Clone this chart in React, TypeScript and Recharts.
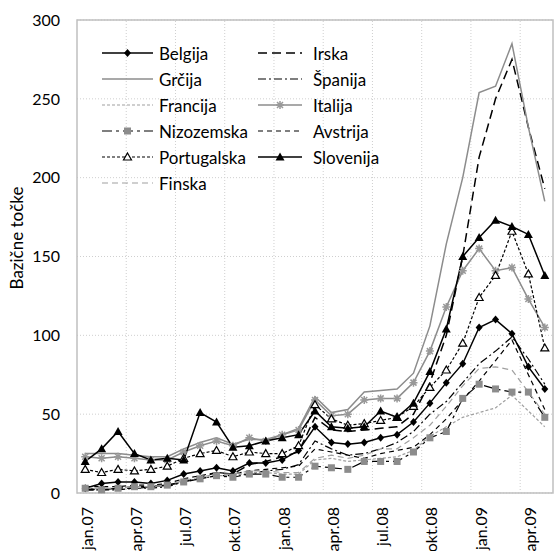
import React from 'react';
import { LineChart, Line, XAxis, YAxis, CartesianGrid, ReferenceLine, ReferenceArea, Legend } from 'recharts';

// mesečni podatki, jan.07 - maj.09
const months = [
  'jan.07', 'feb.07', 'mar.07', 'apr.07', 'maj.07', 'jun.07', 'jul.07', 'avg.07', 'sep.07', 'okt.07', 'nov.07', 'dec.07',
  'jan.08', 'feb.08', 'mar.08', 'apr.08', 'maj.08', 'jun.08', 'jul.08', 'avg.08', 'sep.08', 'okt.08', 'nov.08', 'dec.08',
  'jan.09', 'feb.09', 'mar.09', 'apr.09', 'maj.09',
];
const tickIdx = [0, 3, 6, 9, 12, 15, 18, 21, 24, 27];
const gridIdx = [2.5, 5.5, 8.5, 11.5, 14.5, 17.5, 20.5, 23.5, 26.5];
const yTicks = [0, 50, 100, 150, 200, 250, 300];

const belgija = [3, 6, 7, 7, 6, 8, 12, 14, 16, 14, 19, 19, 21, 27, 42, 32, 31, 32, 35, 37, 45, 57, 70, 82, 105, 110, 101, 80, 66];
const irska = [2, 2, 3, 3, 4, 5, 7, 10, 13, 12, 18, 20, 23, 26, 48, 40, 39, 40, 41, 42, 50, 70, 100, 150, 213, 250, 275, 232, 193];
const grcija = [25, 25, 25, 24, 23, 23, 28, 32, 35, 31, 34, 34, 37, 41, 61, 51, 53, 64, 65, 66, 76, 106, 158, 200, 254, 258, 285, 232, 185];
const spanija = [2, 2, 2, 3, 3, 4, 7, 9, 11, 11, 12, 14, 15, 18, 33, 28, 24, 25, 28, 32, 39, 50, 58, 70, 82, 90, 99, 85, 69];
const francija = [3, 3, 3, 4, 4, 5, 7, 9, 11, 11, 13, 13, 12, 12, 21, 22, 20, 21, 22, 23, 27, 36, 42, 48, 51, 54, 62, 52, 42];
const italija = [23, 22, 23, 22, 21, 21, 26, 30, 33, 30, 35, 33, 37, 40, 59, 49, 50, 59, 60, 60, 70, 90, 118, 141, 155, 141, 143, 123, 105];
const nizozemska = [3, 2, 3, 4, 4, 5, 7, 9, 11, 10, 12, 12, 10, 10, 17, 16, 15, 20, 20, 20, 26, 35, 39, 60, 69, 66, 64, 64, 48];
const avstrija = [4, 4, 4, 5, 5, 6, 9, 11, 13, 12, 14, 15, 16, 17, 28, 26, 24, 22, 25, 27, 29, 37, 47, 59, 71, 84, 97, 75, 53];
const portugalska = [15, 13, 15, 14, 15, 17, 22, 25, 27, 23, 26, 25, 25, 30, 56, 47, 43, 44, 46, 48, 55, 67, 78, 95, 124, 138, 166, 139, 92];
const slovenija = [20, 28, 39, 25, 21, 22, 21, 51, 45, 29, 30, 33, 35, 37, 52, 42, 41, 42, 52, 48, 57, 77, 104, 150, 162, 173, 169, 164, 138];
const finska = [3, 3, 3, 4, 4, 5, 8, 10, 12, 12, 14, 14, 13, 13, 22, 24, 22, 24, 28, 28, 35, 43, 55, 68, 79, 80, 78, 64, 50];

const data = months.map((m, i) => ({
  i,
  m,
  Belgija: belgija[i],
  Irska: irska[i],
  'Grčija': grcija[i],
  'Španija': spanija[i],
  Francija: francija[i],
  Italija: italija[i],
  Nizozemska: nizozemska[i],
  Avstrija: avstrija[i],
  Portugalska: portugalska[i],
  Slovenija: slovenija[i],
  Finska: finska[i],
}));

const FONT = 'Lato, "Open Sans", sans-serif';

type MarkerKind = 'diamond' | 'star' | 'square' | 'openTri' | 'tri' | null;

const Marker = ({ kind, x, y }: { kind: MarkerKind; x: number; y: number }) => {
  if (kind === 'diamond') {
    return <path d={`M${x},${y - 4}L${x + 3.5},${y}L${x},${y + 4}L${x - 3.5},${y}Z`} fill="#000" />;
  }
  if (kind === 'square') {
    return <rect x={x - 3.5} y={y - 3.5} width={7} height={7} fill="#8c8c8c" />;
  }
  if (kind === 'tri') {
    return <path d={`M${x},${y - 4.5}L${x + 4.5},${y + 3.5}L${x - 4.5},${y + 3.5}Z`} fill="#000" />;
  }
  if (kind === 'openTri') {
    return <path d={`M${x},${y - 4}L${x + 4},${y + 3}L${x - 4},${y + 3}Z`} fill="#fff" stroke="#000" strokeWidth={1.2} />;
  }
  if (kind === 'star') {
    return (
      <path
        d={`M${x - 4},${y}L${x + 4},${y}M${x - 3},${y - 3}L${x + 3},${y + 3}M${x - 3},${y + 3}L${x + 3},${y - 3}M${x},${y - 4}L${x},${y + 4}`}
        stroke="#999"
        strokeWidth={1.5}
      />
    );
  }
  return null;
};

const series: { key: string; color: string; dash?: string; width: number; marker: MarkerKind }[] = [
  { key: 'Belgija', color: '#000', width: 1.5, marker: 'diamond' },
  { key: 'Irska', color: '#000', dash: '9 5', width: 1.5, marker: null },
  { key: 'Grčija', color: '#8c8c8c', width: 1.5, marker: null },
  { key: 'Španija', color: '#000', dash: '8 3 2 3', width: 1.2, marker: null },
  { key: 'Francija', color: '#a0a0a0', dash: '3 2', width: 1.2, marker: null },
  { key: 'Italija', color: '#8c8c8c', width: 1.5, marker: 'star' },
  { key: 'Nizozemska', color: '#000', dash: '10 4 3 4', width: 1.2, marker: 'square' },
  { key: 'Avstrija', color: '#000', dash: '5 4', width: 1.2, marker: null },
  { key: 'Portugalska', color: '#000', dash: '3 2', width: 1.2, marker: 'openTri' },
  { key: 'Slovenija', color: '#000', width: 1.5, marker: 'tri' },
  { key: 'Finska', color: '#a0a0a0', dash: '6 4', width: 1.2, marker: null },
];

const LegendBox = () => (
  <svg width={300} height={170} style={{ display: 'block' }}>
    {series.map((s, k) => {
      const col = k % 2;
      const row = Math.floor(k / 2);
      const x0 = col === 0 ? 2 : 158;
      const x1 = col === 0 ? 53 : 202;
      const tx = col === 0 ? 59 : 213;
      const y = 13 + row * 26;
      return (
        <g key={s.key}>
          <line x1={x0} x2={x1} y1={y} y2={y} stroke={s.color} strokeWidth={s.width} strokeDasharray={s.dash} />
          <Marker kind={s.marker} x={(x0 + x1) / 2} y={y} />
          <text x={tx} y={y} dominantBaseline="central" fontSize={17} fontFamily={FONT} fill="#000">
            {s.key}
          </text>
        </g>
      );
    })}
  </svg>
);

const XTick = (props: any) => {
  const { x, payload } = props;
  return (
    <text
      transform={`translate(${x + 1},507) rotate(-90)`}
      textAnchor="end"
      dominantBaseline="central"
      fontSize={16}
      fontFamily={FONT}
      fill="#000"
    >
      {months[payload.value]}
    </text>
  );
};

const YLabel = () => (
  <text
    transform="translate(16,238) rotate(-90)"
    textAnchor="middle"
    dominantBaseline="central"
    fontSize={17}
    fontFamily={FONT}
    fill="#000"
  >
    Bazične točke
  </text>
);

export default function App() {
  return (
    <div style={{ position: 'absolute', left: 0, top: 0, width: 555, height: 551, background: '#fff' }}>
      <LineChart width={555} height={551} data={data} margin={{ top: 20, right: 2, bottom: 0, left: 0 }}>
        <CartesianGrid vertical={false} stroke="#cfcfcf" strokeDasharray="1 2" />
        {gridIdx.map((g) => (
          <ReferenceLine key={g} x={g} stroke="#cfcfcf" strokeDasharray="1 2" />
        ))}
        <ReferenceArea x1={-0.5} x2={28.5} y1={0} y2={300} fill="none" stroke="#c0c0c0" strokeWidth={1.5} ifOverflow="visible" />
        <XAxis
          dataKey="i"
          type="number"
          domain={[-0.5, 28.5]}
          ticks={tickIdx}
          interval={0}
          height={58}
          axisLine={false}
          tickLine={false}
          tick={<XTick />}
        />
        <YAxis
          type="number"
          domain={[0, 300]}
          ticks={yTicks}
          width={77}
          axisLine={false}
          tickLine={false}
          tickSize={0}
          tickMargin={17}
          tick={{ fontSize: 16, fontFamily: FONT, fill: '#000' }}
          label={<YLabel />}
        />
        <Legend
          layout="vertical"
          align="center"
          verticalAlign="middle"
          wrapperStyle={{ left: 100, top: 40, width: 300, height: 170 }}
          content={() => <LegendBox />}
        />
        {series.map((s) => (
          <Line
            key={s.key}
            dataKey={s.key}
            stroke={s.color}
            strokeWidth={s.width}
            strokeDasharray={s.dash}
            isAnimationActive={false}
            dot={s.marker ? (p: any) => <Marker key={p.index} kind={s.marker} x={p.cx} y={p.cy} /> : false}
            activeDot={false}
            type="linear"
          />
        ))}
      </LineChart>
    </div>
  );
}
